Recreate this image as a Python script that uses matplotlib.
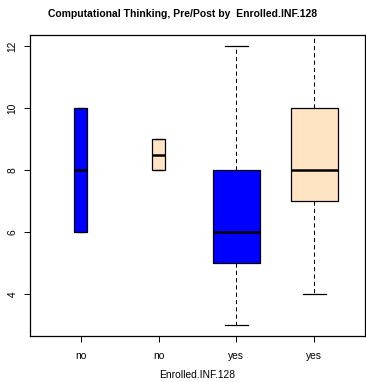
import matplotlib
matplotlib.use("Agg")
import matplotlib.pyplot as plt

# five-number summaries
labels = ["no", "no", "yes", "yes"]
lows = [6, 8, 3, 4]
q1s = [6, 8, 5, 7]
medians = [8, 8.5, 6, 8]
q3s = [10, 9, 8, 10]
highs = [10, 9, 12, 13]
widths = [0.16, 0.16, 0.6, 0.6]
colors = ["#0000FF", "#FFE4C4", "#0000FF", "#FFE4C4"]

plt.rcParams["font.family"] = ["Liberation Sans", "DejaVu Sans"]

fig = plt.figure(figsize=(3.66, 3.82), dpi=100)
ax = fig.add_axes([0.082, 0.1204, 0.915, 0.7876])

stats = []
for lab, lo, a, m, b, hi in zip(labels, lows, q1s, medians, q3s, highs):
    stats.append(dict(label=lab, whislo=lo, q1=a, med=m, q3=b, whishi=hi, fliers=[]))

pos = list(range(1, len(stats) + 1))
bp = ax.bxp(stats, positions=pos, widths=widths, patch_artist=True,
            showfliers=False,
            boxprops=dict(linewidth=0.9, edgecolor="black"),
            medianprops=dict(color="black", linewidth=1.8),
            whiskerprops=dict(color="black", linewidth=0.75, linestyle=(0, (4, 3))),
            capprops=dict(color="black", linewidth=0.9),
            capwidths=[w / 2 for w in widths])
for patch, c in zip(bp["boxes"], colors):
    patch.set_facecolor(c)

ax.set_xlim(0.35, 4.65)
ax.set_ylim(2.64, 12.36)
ax.set_yticks([4, 6, 8, 10, 12])
ax.set_yticklabels(["4", "6", "8", "10", "12"], rotation=90, va="center")
ax.set_xticks(pos)
ax.set_xticklabels(labels)
ax.tick_params(axis="both", labelsize=7.4, length=4, width=0.7)
ax.tick_params(axis="x", pad=7)
ax.tick_params(axis="y", pad=5)
for sp in ax.spines.values():
    sp.set_linewidth(0.9)

ax.set_xlabel("Enrolled.INF.128", fontsize=7.4, labelpad=6)
fig.text(0.5, 0.963, "Computational Thinking, Pre/Post by  Enrolled.INF.128",
         ha="center", va="center", fontsize=7.5, fontweight="bold")

fig.savefig("out.png", dpi=100)
